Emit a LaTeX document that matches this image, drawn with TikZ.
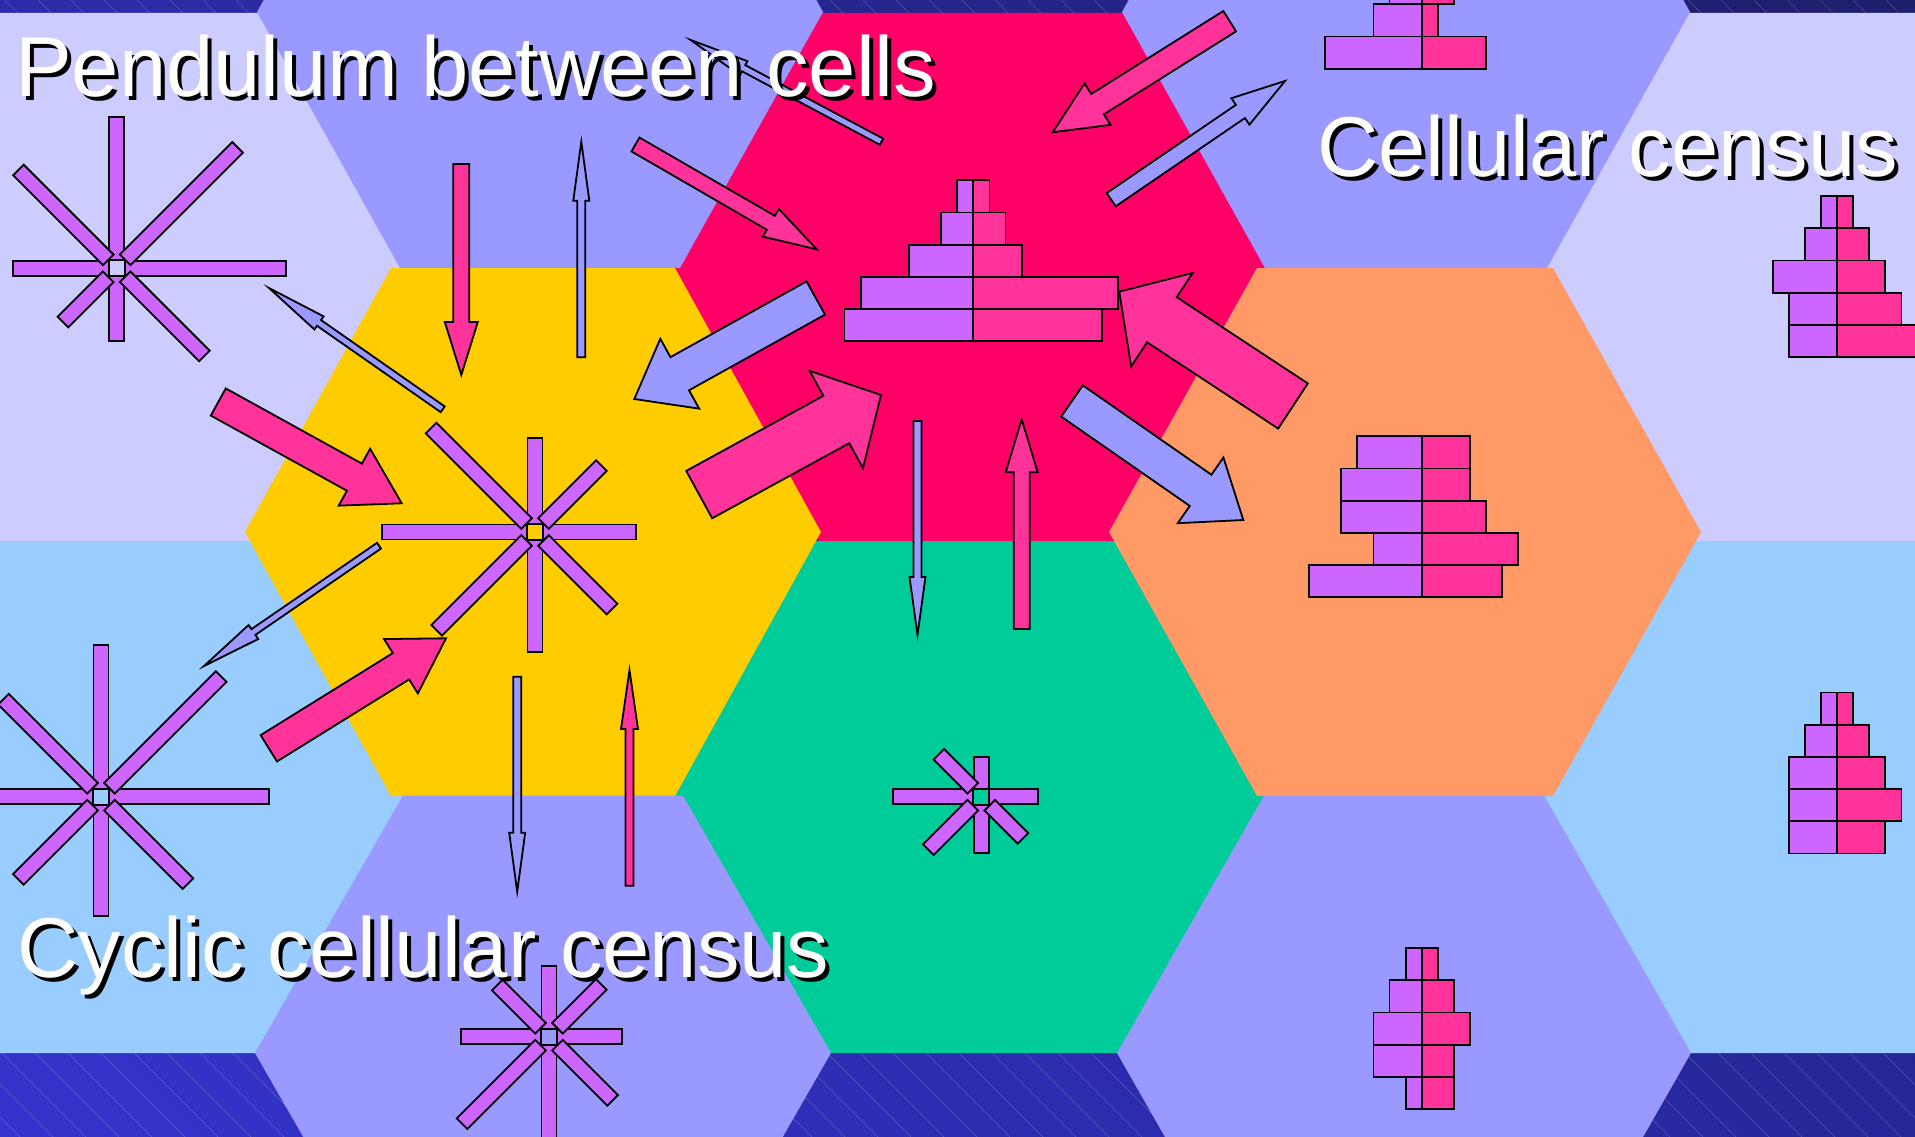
\documentclass[tikz,border=0pt]{standalone}
\usepackage{fontspec}
\setmainfont{Liberation Sans}
\usetikzlibrary{calc,shadings}

\definecolor{lavender}{HTML}{CCCCFF}
\definecolor{skyblue}{HTML}{99CCFF}
\definecolor{periwinkle}{HTML}{9999FF}
\definecolor{sunyellow}{HTML}{FFCC00}
\definecolor{crimson}{HTML}{FF0066}
\definecolor{seagreen}{HTML}{00CC99}
\definecolor{apricot}{HTML}{FF9966}
\definecolor{cellviolet}{HTML}{CC66FF}
\definecolor{cellrose}{HTML}{FF3399}
\definecolor{bandtl}{HTML}{2C2CAA}
\definecolor{bandtr}{HTML}{1E1E6C}
\definecolor{bandbl}{HTML}{3434CE}
\definecolor{bandbr}{HTML}{262699}

% hexagon: colour, centre x, centre y, half width, half top edge, half height
\newcommand{\hexcell}[6]{%
  \fill[#1] ({#2-#4},{#3}) -- ({#2-#5},{#3-#6}) -- ({#2+#5},{#3-#6}) -- ({#2+#4},{#3})
    -- ({#2+#5},{#3+#6}) -- ({#2-#5},{#3+#6}) -- cycle;}

% block arrow: style, tail, tip, shaft width, head width, head length
\newcommand{\blockarrow}[6]{%
  \coordinate (hb) at ($(#3)!#6pt!(#2)$);
  \draw[#1] ($(#2)!0.5*#4pt!90:(#3)$) -- ($(hb)!0.5*#4pt!90:(#3)$) -- ($(hb)!0.5*#5pt!90:(#3)$)
    -- (#3) -- ($(hb)!0.5*#5pt!-90:(#3)$) -- ($(hb)!0.5*#4pt!-90:(#3)$) -- ($(#2)!0.5*#4pt!-90:(#3)$) -- cycle;}

% eight-armed star: centre, list of angle/length
\newcommand{\starburst}[2]{%
  \begin{scope}[shift={(#1)}]
    \foreach \ang/\len in {#2} {
      \pgfmathsetmacro{\rin}{mod(\ang,90)==0 ? 8 : 12}
      \draw[arm, rotate=\ang] (\rin,-7.5) rectangle (\len,7.5);
    }
    \draw[hub] (-8,-8) rectangle (8,8);
  \end{scope}}

% census stack: centre x, top y, list of left/right counts
\newcommand{\census}[3]{%
  \foreach \nl/\nr [count=\i from 0] in {#3} {
    \pgfmathsetmacro{\ytop}{#2+\i*32.2}
    \draw[leftcell] ({#1-\nl*16.1},{\ytop}) rectangle (#1,{\ytop+32.2});
    \draw[rightcell] (#1,{\ytop}) rectangle ({#1+\nr*16.1},{\ytop+32.2});
  }}

\begin{document}
\begin{tikzpicture}[
    x=1pt, y=-1pt,
    edged/.style={draw=black, line width=1.8pt, line join=miter},
    arm/.style={edged, fill=cellviolet},
    hub/.style={draw=black, line width=1.8pt},
    leftcell/.style={edged, fill=cellviolet},
    rightcell/.style={edged, fill=cellrose},
    pinkarrow/.style={edged, fill=cellrose},
    bluearrow/.style={edged, fill=periwinkle},
    hatch/.style={draw=white, draw opacity=0.22, line width=0.6pt},
    slidetitle/.style={font=\fontsize{85}{90}\selectfont, inner sep=0pt, anchor=base west}
]
\useasboundingbox (0,0) rectangle (1915,1137);
\clip (0,0) rectangle (1915,1137);

% Background band with fine hatching
\shade[upper left=bandtl, upper right=bandtr, lower left=bandbl, lower right=bandbr] (0,0) rectangle (1915,1137);
\foreach \hx in {-1150,-1117,...,1915}
  \draw[hatch] (\hx,0) -- ++(1137,1137);

% Odd columns (drawn first, a little wider)
\hexcell{lavender}{100}{277}{310}{165}{264}
\hexcell{crimson}{971}{277}{300}{152}{264}
\hexcell{lavender}{1841}{277}{305}{158}{264}
\hexcell{skyblue}{100}{797}{308}{162}{256}
\hexcell{seagreen}{967}{797}{302}{151}{256}
\hexcell{skyblue}{1841}{797}{305}{158}{256}

% Even columns
\hexcell{periwinkle}{540}{12}{283}{140}{256}
\hexcell{periwinkle}{1406}{12}{284}{141}{256}
\hexcell{sunyellow}{533}{532}{288}{142}{264}
\hexcell{apricot}{1405}{532}{296}{148}{264}
\hexcell{periwinkle}{543}{1053}{288}{140}{257.5}
\hexcell{periwinkle}{1404}{1053}{287}{140}{257.5}

% Stars
\starburst{116.7,268.3}{0/169, 90/151, 180/104, 270/73, 45/171, 135/139, 225/76, 315/124}
\starburst{535,532}{0/101, 90/94, 180/153, 270/120, 45/94, 135/147, 225/139, 315/109}
\starburst{101,796.7}{0/168, 90/152, 180/110, 270/119, 45/170, 135/138, 225/117, 315/123}
\starburst{549,1036.7}{0/73, 90/71, 180/88, 270/130, 45/74, 135/73, 225/123, 315/90}
\starburst{981.3,796.7}{0/57, 90/40, 180/88, 270/56, 135/60, 225/75, 315/59}

% Census stacks
\census{973.3}{180.3}{1/1, 2/2, 4/3, 7/9, 8/8}
\census{1421.7}{-27.8}{2/2, 3/1, 6/4}
\census{1837}{196}{1/1, 2/2, 4/3, 3/4, 3/6}
\census{1421.7}{436.2}{4/3, 5/3, 5/4, 3/6, 7/5}
\census{1837}{692.5}{1/1, 2/2, 3/3, 3/4, 3/3}
\census{1421.7}{948}{1/1, 2/2, 3/3, 3/2, 1/2}

% Arrow ends
\coordinate (a1t) at (881.5,141.7);  \coordinate (a1p) at (690.7,40);
\coordinate (a2t) at (1229.7,21.2);  \coordinate (a2p) at (1052.7,132.3);
\coordinate (a3t) at (1111.2,199.7); \coordinate (a3p) at (1285,81);
\coordinate (a4t) at (461.3,164);    \coordinate (a4p) at (461.3,375);
\coordinate (a5t) at (581.3,357.3);  \coordinate (a5p) at (581.3,141.7);
\coordinate (a6t) at (635.5,144.5);  \coordinate (a6p) at (816.7,249.3);
\coordinate (a7t) at (442.7,409.3);  \coordinate (a7p) at (269,288);
\coordinate (a8t) at (815.8,298);    \coordinate (a8p) at (634.3,399);
\coordinate (a9t) at (218.3,402);    \coordinate (a9p) at (401.7,503.3);
\coordinate (a10t) at (699.2,494.6); \coordinate (a10p) at (881,395);
\coordinate (a11t) at (1293,406);    \coordinate (a11p) at (1119.3,291.7);
\coordinate (a12t) at (1072,401);    \coordinate (a12p) at (1243.3,520);
\coordinate (a13t) at (917.5,421);   \coordinate (a13p) at (917.5,635);
\coordinate (a14t) at (1021.7,629);  \coordinate (a14p) at (1021.7,419.3);
\coordinate (a15t) at (379,545.7);   \coordinate (a15p) at (204,666);
\coordinate (a16t) at (268.8,748.3); \coordinate (a16p) at (446,638.3);
\coordinate (a17t) at (517.2,676.7); \coordinate (a17p) at (517.2,891.7);
\coordinate (a18t) at (629.5,885.7); \coordinate (a18p) at (629.5,670);

% Arrows
\blockarrow{bluearrow}{a1t}{a1p}{7}{16}{60}
\blockarrow{pinkarrow}{a2t}{a2p}{24}{49}{53}
\blockarrow{bluearrow}{a3t}{a3p}{16}{32}{54}
\blockarrow{pinkarrow}{a4t}{a4p}{16}{33}{53}
\blockarrow{bluearrow}{a5t}{a5p}{8}{16}{59}
\blockarrow{pinkarrow}{a6t}{a6p}{16}{32}{53}
\blockarrow{bluearrow}{a7t}{a7p}{7}{16}{61}
\blockarrow{bluearrow}{a8t}{a8p}{38}{80}{52}
\blockarrow{pinkarrow}{a9t}{a9p}{31}{65}{54}
\blockarrow{pinkarrow}{a10t}{a10p}{54}{111}{51}
\blockarrow{pinkarrow}{a11t}{a11p}{54}{112}{51}
\blockarrow{bluearrow}{a12t}{a12p}{38}{80}{52}
\blockarrow{bluearrow}{a13t}{a13p}{8}{16}{58}
\blockarrow{pinkarrow}{a14t}{a14p}{16}{32}{53}
\blockarrow{bluearrow}{a15t}{a15p}{7}{17}{60}
\blockarrow{pinkarrow}{a16t}{a16p}{31}{64}{53}
\blockarrow{bluearrow}{a17t}{a17p}{8}{16}{59}
\blockarrow{pinkarrow}{a18t}{a18p}{8}{17}{59}

% Titles with drop shadow
\node[slidetitle, text=black] (pend-sh) at (19,101) {Pendulum between cells};
\node[slidetitle, text=white] (pend) at (15,97) {Pendulum between cells};
\node[slidetitle, text=black] (cens-sh) at (1321,181) {Cellular census};
\node[slidetitle, text=white] (cens) at (1317,177) {Cellular census};
\node[slidetitle, text=black] (cyc-sh) at (21,981) {Cyclic cellular census};
\node[slidetitle, text=white] (cyc) at (17,977) {Cyclic cellular census};

\end{tikzpicture}
\end{document}
